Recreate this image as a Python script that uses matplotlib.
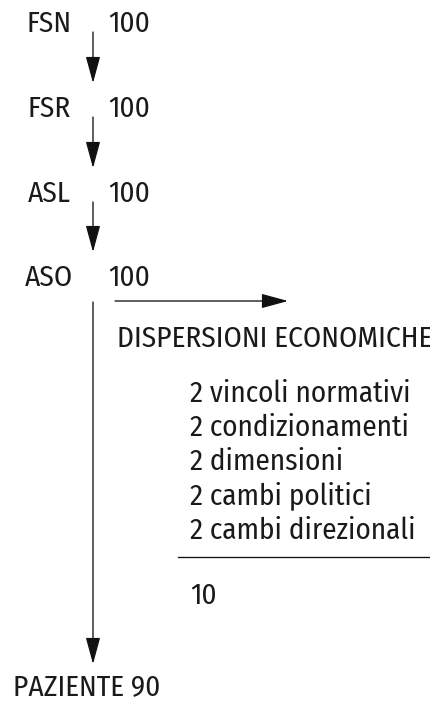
import matplotlib.pyplot as plt

# flow stages and counts
stages = ['FSN', 'FSR', 'ASL', 'ASO']
stage_values = [100, 100, 100, 100]
stage_y = [32, 117, 202, 286]

# economic dispersions
disp_title = 'DISPERSIONI ECONOMICHE'
disp_items = ['vincoli normativi', 'condizionamenti', 'dimensioni',
              'cambi politici', 'cambi direzionali']
disp_values = [2, 2, 2, 2, 2]
disp_total = 10

final_label = 'PAZIENTE'
final_value = 90

plt.rcParams['font.family'] = ['Fira Sans Condensed', 'DejaVu Sans']
FS = 21
TC = '#1a1a1a'
ARROW = dict(arrowstyle='-|>,head_length=1.1,head_width=0.3',
             color='#111111', lw=0.95, mutation_scale=15, shrinkA=0, shrinkB=0)

fig = plt.figure(figsize=(4.31, 7.02), dpi=100)
ax = fig.add_axes([0, 0, 1, 1])
ax.set_xlim(0, 431)
ax.set_ylim(702, 0)
ax.axis('off')

xa = 93
for i, (name, val, y) in enumerate(zip(stages, stage_values, stage_y)):
    ax.text(49, y, name, ha='center', va='baseline', fontsize=FS, color=TC)
    ax.text(108, y, str(val), ha='left', va='baseline', fontsize=FS, color=TC)
    if i < len(stages) - 1:
        ax.annotate('', xy=(xa, stage_y[i + 1] - 34), xytext=(xa, y),
                    arrowprops=ARROW)

# long arrow to patient
ax.annotate('', xy=(xa, 664), xytext=(xa, 302), arrowprops=ARROW)
# side arrow to dispersions
ax.annotate('', xy=(288, 301), xytext=(115, 301), arrowprops=ARROW)

ax.text(117, 347, disp_title, ha='left', va='baseline', fontsize=FS, color=TC)
item_y0, item_dy = 402, 34.2
for k, (v, item) in enumerate(zip(disp_values, disp_items)):
    ax.text(190, item_y0 + k * item_dy, f'{v} {item}', ha='left', va='baseline',
            fontsize=FS, color=TC)
ax.plot([178, 431], [557, 557], color='#111111', lw=0.95)
ax.text(190, 604, str(disp_total), ha='left', va='baseline', fontsize=FS, color=TC)

ax.text(13, 701, f'{final_label} {final_value}', ha='left', va='bottom',
        fontsize=FS, color=TC)

fig.savefig('out.png', dpi=100)
